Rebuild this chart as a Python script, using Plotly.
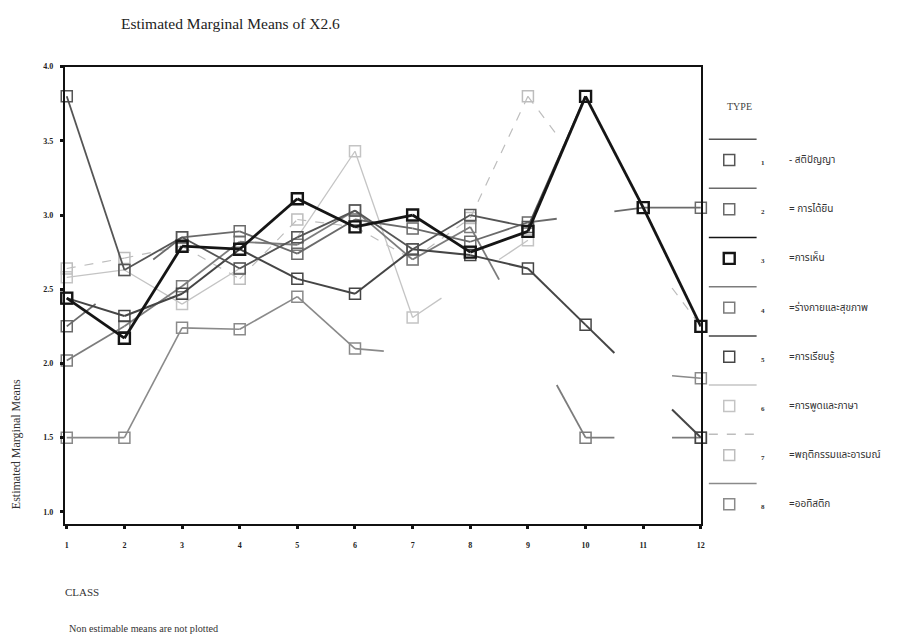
import plotly.graph_objects as go

# page has an 8px body margin, so the figure is drawn 8px in from the window edge
OFF = 8
W, H = 904 - 2 * OFF, 642 - 2 * OFF

classes = list(range(1, 13))
y_ticks = [1.0, 1.5, 2.0, 2.5, 3.0, 3.5, 4.0]

type_codes = ["1", "2", "3", "4", "5", "6", "7", "8"]
type_labels = ["- สติปัญญา", "= การได้ยิน", "=การเห็น", "=ร่างกายและสุขภาพ",
               "=การเรียนรู้", "=การพูดและภาษา", "=พฤติกรรมและอารมณ์", "=ออทิสติก"]

# Estimated marginal means per TYPE across CLASS 1..12 (None = non-estimable)
type1 = [3.80, 2.63, 2.85, 2.64, 2.85, 3.03, 2.77, 3.00, 2.92, 3.80, None, None]
type2 = [2.25, None, 2.85, 2.89, 2.74, 2.97, 2.91, 2.82, 2.95, None, 3.05, 3.05]
type3 = [2.44, 2.17, 2.79, 2.77, 3.11, 2.92, 3.00, 2.75, 2.89, 3.80, 3.05, 2.25]
type4 = [2.02, 2.25, 2.52, 2.82, 2.80, 3.03, 2.70, 2.92, None, 1.50, None, 1.50]
type5 = [2.44, 2.32, 2.47, 2.77, 2.57, 2.47, 2.77, 2.73, 2.64, 2.26, None, 1.50]
type6 = [2.58, 2.63, 2.40, 2.64, 2.85, 3.43, 2.31, None, 2.83, None, None, None]
type7 = [2.64, 2.71, 2.79, 2.57, 2.97, 2.92, 2.70, 2.98, 3.80, None, None, 2.25]
type8 = [1.50, 1.50, 2.24, 2.23, 2.45, 2.10, None, None, None, None, None, 1.90]

series = [type1, type2, type3, type4, type5, type6, type7, type8]

colors = ["#555555", "#6a6a6a", "#151515", "#7c7c7c", "#454545", "#c4c4c4", "#bdbdbd", "#8a8a8a"]
widths = [1.8, 1.8, 2.8, 1.8, 2.0, 1.3, 1.2, 1.6]
dashes = ["solid", "solid", "solid", "solid", "solid", "solid", "dash", "solid"]
draw_order = [6, 5, 7, 3, 1, 4, 0, 2]

# plot area in window pixels
PL, PR, PT, PB = 65, 704, 63, 523


def fx(px):
    return (px - OFF) / W


def fy(py):
    return 1 - (py - OFF) / H


fig = go.Figure()


def build_line(vals):
    """Connect consecutive estimable means; across gaps draw only the half-class
    stubs next to each estimable point (as in the SPSS output)."""
    xs, ys = [], []
    idx = [i for i, v in enumerate(vals) if v is not None]
    for a, b in zip(idx[:-1], idx[1:]):
        x0, y0, x1, y1 = classes[a], vals[a], classes[b], vals[b]
        if b - a == 1:
            xs += [x0, x1, None]
            ys += [y0, y1, None]
        else:
            slope = (y1 - y0) / (x1 - x0)
            xs += [x0, x0 + 0.5, None, x1 - 0.5, x1, None]
            ys += [y0, y0 + 0.5 * slope, None, y1 - 0.5 * slope, y1, None]
    return xs, ys


for k in draw_order:
    vals = series[k]
    lx, ly = build_line(vals)
    fig.add_trace(go.Scatter(x=lx, y=ly, mode="lines",
                             line=dict(color=colors[k], width=widths[k], dash=dashes[k]),
                             hoverinfo="skip", showlegend=False, cliponaxis=False))
    fig.add_trace(go.Scatter(x=classes, y=vals, mode="markers",
                             marker=dict(symbol="square-open", size=11,
                                         color=colors[k],
                                         line=dict(width=2.4 if k == 2 else 1.5, color=colors[k])),
                             name=type_codes[k], showlegend=False, cliponaxis=False))

serif = "Liberation Serif, Times New Roman, serif"
thai = "Noto Sans Thai, Noto Sans, DejaVu Sans, sans-serif"

ann = []
ann.append(dict(text="Estimated Marginal Means of X2.6", x=fx(120), y=fy(20), xref="paper", yref="paper",
                xanchor="left", yanchor="middle", showarrow=False,
                font=dict(family=serif, size=15.5, color="#222222")))
ann.append(dict(text="Estimated Marginal Means", x=fx(16), y=fy(443), xref="paper", yref="paper",
                xanchor="center", yanchor="middle", textangle=-90, showarrow=False,
                font=dict(family=serif, size=12, color="#333333")))
ann.append(dict(text="CLASS", x=fx(63), y=fy(592), xref="paper", yref="paper",
                xanchor="left", yanchor="middle", showarrow=False,
                font=dict(family=serif, size=11, color="#333333")))
ann.append(dict(text="Non estimable means are not plotted", x=fx(67), y=fy(628), xref="paper", yref="paper",
                xanchor="left", yanchor="middle", showarrow=False,
                font=dict(family=serif, size=10.2, color="#333333")))
ann.append(dict(text="TYPE", x=fx(728), y=fy(103), xref="paper", yref="paper",
                xanchor="left", yanchor="middle", showarrow=False,
                font=dict(family=serif, size=10, color="#444444")))

shapes = []
for i in range(8):
    sy = 157 + 49.5 * i
    ly = sy - 21
    shapes.append(dict(type="line", xref="paper", yref="paper",
                       x0=fx(712), x1=fx(760), y0=fy(ly), y1=fy(ly),
                       line=dict(color=colors[i], width=1.5, dash=dashes[i])))
    shapes.append(dict(type="rect", xref="paper", yref="paper",
                       x0=fx(727), x1=fx(738), y0=fy(sy - 5.5), y1=fy(sy + 5.5),
                       line=dict(color=colors[i], width=2.4 if i == 2 else 1.5)))
    ann.append(dict(text="<b>" + type_codes[i] + "</b>", x=fx(762), y=fy(sy + 3), xref="paper", yref="paper",
                    xanchor="left", yanchor="middle", showarrow=False,
                    font=dict(family=serif, size=7, color="#333333")))
    ann.append(dict(text=type_labels[i], x=fx(791), y=fy(sy), xref="paper", yref="paper",
                    xanchor="left", yanchor="middle", showarrow=False,
                    font=dict(family=thai, size=10, color="#333333")))

fig.update_layout(
    width=W, height=H, autosize=False,
    margin=dict(l=0, r=0, t=0, b=0),
    paper_bgcolor="white", plot_bgcolor="white",
    showlegend=False,
    annotations=ann, shapes=shapes,
    xaxis=dict(domain=[fx(PL), fx(PR)], range=[0.965, 12.0],
               tickmode="array", tickvals=classes, ticktext=["<b>%d</b>" % c for c in classes],
               showgrid=False, zeroline=False, showline=True, linecolor="#111111", linewidth=2,
               mirror=True, ticks="outside", ticklen=3, tickwidth=3, tickcolor="#111111",
               ticklabelstandoff=10,
               tickfont=dict(family=serif, size=8, color="#222222")),
    yaxis=dict(domain=[fy(PB), fy(PT)], range=[0.92, 4.0],
               tickmode="array", tickvals=y_ticks, ticktext=["<b>%.1f</b>" % t for t in y_ticks],
               showgrid=False, zeroline=False, showline=True, linecolor="#111111", linewidth=2,
               mirror=True, ticks="outside", ticklen=3, tickwidth=3, tickcolor="#111111",
               ticklabelstandoff=5,
               tickfont=dict(family=serif, size=8, color="#222222")),
)

fig.write_html("out.html")
